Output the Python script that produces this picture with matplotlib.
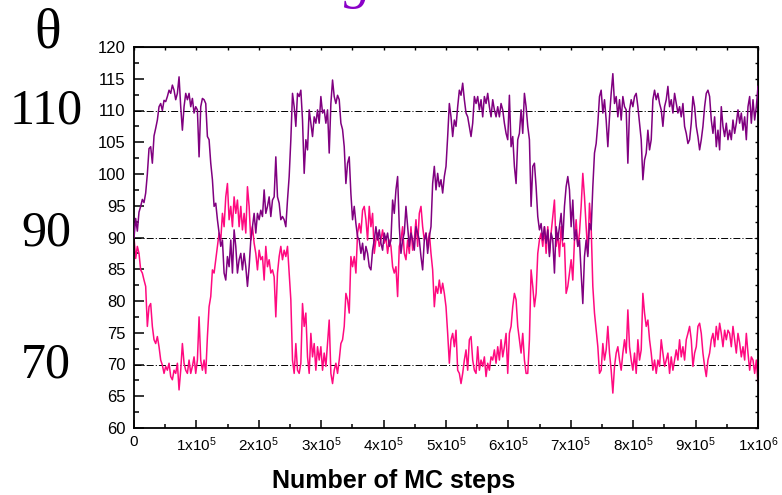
import numpy as np
import matplotlib
matplotlib.use("Agg")
import matplotlib.pyplot as plt
from matplotlib.ticker import MultipleLocator, FixedLocator, FixedFormatter, NullFormatter

# Polar angle theta (degrees) of the two tracked vectors during the MC run
theta_purple = [
    90.0,
    93.0, 91.0, 94.0, 94.9, 96.0, 95.5, 97.0, 100.0, 104.0, 104.3,
    101.7, 106.0, 107.2, 108.5, 110.6, 111.1, 110.0, 111.6, 111.4, 112.2,
    113.2, 112.7, 114.0, 113.2, 111.7, 112.7, 115.3, 110.6, 106.9, 110.6,
    112.7, 111.7, 112.7, 110.6, 111.9, 109.6, 110.6, 110.1, 102.7, 110.6,
    111.9, 111.7, 111.1, 105.9, 105.4, 101.7, 99.1, 94.9, 95.4, 92.8,
    90.7, 88.6, 89.6, 84.4, 83.3, 87.0, 85.4, 89.6, 84.4, 91.2,
    88.6, 84.4, 86.5, 87.5, 84.9, 87.5, 85.4, 82.3, 85.4, 89.6,
    91.7, 93.8, 90.7, 93.8, 92.8, 94.3, 93.3, 97.5, 93.8, 94.9,
    96.4, 93.3, 95.9, 96.4, 102.7, 96.4, 95.4, 92.8, 93.3, 92.8,
    91.7, 95.9, 99.6, 105.4, 112.7, 110.6, 107.5, 112.7, 112.2, 113.2,
    108.5, 100.1, 105.4, 103.8, 110.1, 108.0, 105.9, 109.0, 108.0, 110.1,
    108.0, 112.2, 109.6, 110.1, 108.0, 110.1, 103.3, 111.1, 114.8, 112.2,
    111.1, 112.4, 111.7,
    108.0, 107.0, 104.3, 98.5, 101.7, 102.7, 96.9, 92.8, 94.9, 92.2,
    90.1, 89.6, 87.5, 89.1, 86.5, 88.6, 87.5, 85.4, 84.9, 88.0,
    89.6, 91.7, 89.6, 91.2, 89.1, 88.0, 90.7, 89.6, 90.7, 88.6,
    89.6, 95.9, 93.8, 97.5, 99.6, 91.7, 87.5, 89.6, 90.7, 94.9,
    91.7, 88.6, 90.7, 89.6, 88.0, 91.7, 90.7, 89.6, 87.0, 84.9,
    89.6, 90.7, 87.5, 90.1, 91.7, 98.5, 101.2, 97.5, 100.1, 98.0,
    99.1, 97.0, 99.6, 101.2, 105.9, 111.1, 109.0, 105.9, 108.5, 107.5,
    110.6, 113.2, 112.4, 114.3, 111.7, 109.6, 109.0, 107.5, 105.9, 108.0,
    112.2, 111.1, 112.2, 110.1, 111.7, 109.0, 112.2, 111.1, 112.7, 110.6,
    109.0, 111.7, 110.1, 109.0, 110.6, 109.0, 111.1, 110.1, 108.0, 106.4,
    105.4, 112.4, 104.3, 105.9, 101.2, 98.5, 105.4, 106.4, 110.1, 106.4,
    112.7, 110.6, 107.5, 105.4, 94.9, 101.2, 101.7, 98.0, 93.3, 91.2,
    92.2, 89.6, 91.7, 89.1,
    91.2, 87.0, 90.7, 89.6, 84.4, 91.7, 89.6, 91.7, 93.8, 89.6,
    94.9, 98.0, 99.6, 97.5, 91.7, 95.9, 89.6, 91.2, 88.6, 89.6,
    84.4, 79.6, 87.0, 89.6, 87.0, 92.2, 91.2, 98.0, 103.3, 104.8,
    108.0, 112.2, 113.2, 109.6, 111.7, 108.5, 104.3, 109.0, 112.7, 115.8,
    111.1, 112.2, 109.0, 111.7, 108.5, 112.2, 110.6, 110.1, 101.7, 110.1,
    111.7, 110.6, 112.2, 112.7, 110.6, 108.0, 105.4, 99.1, 102.2, 103.3,
    106.9, 103.8, 105.4, 111.7, 113.2, 111.7, 112.7, 111.1, 110.1, 107.5,
    110.6, 111.7, 113.8, 110.6, 111.7, 109.6, 112.7, 111.1, 109.6, 110.6,
    109.0, 111.1, 107.5, 106.4, 104.8, 105.4, 108.0, 112.2, 110.6, 107.5,
    105.9, 103.8, 105.4, 107.5, 110.6, 112.7, 113.2, 112.2, 108.5, 106.4,
    109.0, 104.3, 106.9, 103.8, 110.6, 107.5, 105.9, 108.0, 105.4, 106.9,
    105.4, 108.5, 106.4, 108.0, 110.1, 108.0, 109.6, 106.9, 109.0, 105.4,
    110.6, 112.2, 108.0, 111.7, 108.5, 110.6, 113.8,
]

theta_pink = [
    90.0,
    86.7, 88.6, 87.5, 84.9, 84.4, 83.3, 82.3, 76.0, 79.1, 79.6,
    76.0, 73.9, 73.3, 74.4, 72.8, 70.7, 69.9, 68.6, 69.7, 69.1,
    70.2, 68.1, 67.6, 69.1, 68.6, 70.2, 66.0, 69.1, 73.3, 70.2,
    69.1, 68.6, 70.7, 68.6, 69.7, 71.2, 68.6, 70.7, 77.5, 70.7,
    69.1, 70.7, 68.6, 74.4, 79.1, 80.7, 84.9, 84.4, 86.5, 88.6,
    90.7, 89.6, 93.8, 91.7, 96.4, 98.5, 92.8, 94.9, 91.7, 96.4,
    93.8, 95.9, 91.7, 94.9, 91.2, 93.8, 90.7, 98.0, 94.9, 89.6,
    91.7, 89.1, 87.5, 84.9, 88.0, 86.5, 87.0, 83.3, 88.6, 85.4,
    86.5, 84.4, 84.9, 83.8, 77.5, 84.4, 87.0, 88.6, 86.5, 88.0,
    87.0, 88.6, 84.4, 80.2, 70.7, 68.6, 73.3, 69.1, 68.6, 70.2,
    79.6, 76.0, 78.1, 71.2, 68.6, 74.9, 71.2, 73.3, 69.1, 72.8,
    70.7, 72.8, 69.1, 71.8, 69.7, 73.3, 77.0, 68.6, 67.0, 69.1,
    70.2, 68.6, 70.7,
    73.3, 73.9, 76.0, 81.2, 80.2, 78.1, 87.0, 85.4, 87.0, 84.4,
    90.7, 92.2, 90.7, 94.3, 94.9, 92.8, 89.6, 94.9, 91.7, 93.8,
    87.5, 89.6, 90.7, 88.6, 89.6, 91.2, 89.1, 90.1, 87.5, 89.6,
    88.6, 85.4, 84.4, 85.4, 80.7, 88.6, 89.6, 91.7, 87.5, 86.5,
    89.6, 87.5, 91.7, 88.0, 89.6, 92.8, 88.6, 93.8, 94.9, 91.7,
    89.6, 90.7, 88.6, 90.7, 87.5, 84.9, 79.1, 82.3, 81.2, 83.3,
    81.2, 82.8, 81.2, 79.1, 74.9, 70.2, 73.9, 74.9, 72.8, 75.4,
    69.1, 68.6, 67.0, 68.6, 70.7, 72.3, 69.1, 73.9, 74.4, 70.7,
    69.1, 68.6, 72.8, 69.1, 70.7, 69.7, 71.2, 68.1, 70.2, 69.1,
    71.2, 70.7, 72.3, 70.2, 72.8, 70.7, 73.9, 71.2, 72.8, 74.9,
    68.6, 74.9, 76.0, 79.1, 81.2, 80.2, 76.0, 73.9, 71.8, 74.9,
    70.7, 68.6, 68.6, 73.9, 84.9, 82.3, 79.1, 81.2, 87.5, 89.6,
    90.7, 88.6, 91.7, 87.5,
    91.7, 87.5, 90.7, 93.3, 95.9, 88.6, 90.7, 87.0, 91.7, 88.6,
    89.1, 81.2, 82.3, 84.4, 86.5, 83.3, 89.6, 92.8, 88.6, 90.7,
    94.9, 100.1, 96.4, 91.7, 87.5, 95.4, 91.7, 82.3, 78.1, 75.4,
    72.8, 68.6, 69.1, 73.3, 70.7, 72.3, 76.0, 71.8, 69.1, 65.5,
    69.7, 71.8, 72.8, 70.7, 69.1, 71.8, 73.9, 71.8, 78.6, 72.8,
    70.7, 69.1, 71.8, 68.6, 73.9, 70.7, 72.3, 81.2, 78.1, 76.0,
    77.0, 73.9, 71.8, 69.1, 70.7, 68.6, 70.7, 69.7, 73.9, 71.8,
    69.7, 70.7, 71.8, 68.6, 71.2, 69.1, 70.7, 72.3, 70.7, 73.9,
    71.2, 72.8, 70.7, 73.9, 74.9, 76.0, 73.9, 69.7, 71.8, 72.8,
    76.0, 76.5, 74.9, 71.8, 69.7, 68.1, 70.7, 71.8, 73.9, 74.9,
    72.8, 76.0, 73.9, 76.5, 74.9, 72.8, 75.4, 73.9, 75.4, 74.9,
    72.8, 76.0, 73.9, 71.8, 74.9, 73.4, 71.2, 72.8, 70.7, 74.9,
    71.8, 69.1, 71.2, 70.7, 68.6, 70.7, 67.0,
]

reference_angles = [70, 90, 110]
side_labels = ["110", "90", "70"]

y_ticks = list(range(60, 121, 5))
x_ticks = [i * 1e5 for i in range(11)]
x_tick_labels = ["0"] + [f"{i}x10$^{{5}}$" for i in range(1, 10)] + ["1x10$^{6}$"]

steps_purple = np.linspace(0, 1e6, len(theta_purple))
steps_pink = np.linspace(0, 1e6, len(theta_pink))

plt.rcParams["font.family"] = ["Liberation Sans", "DejaVu Sans"]
plt.rcParams["mathtext.fontset"] = "custom"
plt.rcParams["mathtext.rm"] = "Liberation Sans"
plt.rcParams["mathtext.it"] = "Liberation Sans"
plt.rcParams["lines.scale_dashes"] = False

W, H = 782, 495
fig = plt.figure(figsize=(W / 100, H / 100), dpi=100)
ax = fig.add_axes([134 / W, 1 - 428 / H, 624 / W, 381 / H])

for ref in reference_angles:
    ax.axhline(ref, color="black", lw=0.7, linestyle=(0, (5, 1.5, 0.8, 1.5)), zorder=1)

ax.plot(steps_purple, theta_purple, color="#800080", lw=1.1, zorder=3)
ax.plot(steps_pink, theta_pink, color="#FF0A80", lw=1.1, zorder=2)

ax.set_xlim(0, 1e6)
ax.set_ylim(60, 120)

ax.xaxis.set_major_locator(FixedLocator(x_ticks))
ax.xaxis.set_major_formatter(FixedFormatter(x_tick_labels))
ax.xaxis.set_minor_locator(MultipleLocator(5e4))
ax.yaxis.set_major_locator(FixedLocator(y_ticks))
ax.yaxis.set_minor_locator(MultipleLocator(2.5))

ax.tick_params(axis="both", which="both", direction="in", top=False, right=False)
ax.tick_params(axis="y", which="major", length=7, width=1.1, labelsize=12, pad=6)
ax.tick_params(axis="y", which="minor", length=3.5, width=1.1)
ax.tick_params(axis="x", which="major", length=6, width=1.1, labelsize=11, pad=5)
ax.tick_params(axis="x", which="minor", length=3, width=1.1)

for side in ["left", "right", "top", "bottom"]:
    ax.spines[side].set_linewidth(1.3)

# short mirrored ticks on the top and right frame
top = ax.secondary_xaxis("top")
top.xaxis.set_major_locator(FixedLocator(x_ticks))
top.xaxis.set_minor_locator(MultipleLocator(5e4))
top.xaxis.set_major_formatter(NullFormatter())
top.tick_params(which="both", direction="in", length=2.5, width=1.0)
right = ax.secondary_yaxis("right")
right.yaxis.set_major_locator(FixedLocator(y_ticks))
right.yaxis.set_minor_locator(MultipleLocator(2.5))
right.yaxis.set_major_formatter(NullFormatter())
right.tick_params(which="both", direction="in", length=2.5, width=1.0)

fig.text(394 / W, 1 - 481 / H, "Number of MC steps", fontsize=18, fontweight="bold",
         ha="center", va="center")

serif = ["Liberation Serif", "DejaVu Serif"]
fig.text(48 / W, 1 - 33 / H, "θ", fontsize=40, family=serif, ha="center", va="center")
for lab, ypix in zip(side_labels, [111, 233, 365]):
    fig.text(46 / W, 1 - ypix / H, lab, fontsize=36, family=serif, ha="center", va="center")

# purple title glyph running off the top edge
fig.text(358 / W, 1 + 3 / H, "g", fontsize=40, family=serif, style="italic",
         color="#8A00C8", ha="center", va="baseline")

fig.savefig("out.png", dpi=100)
